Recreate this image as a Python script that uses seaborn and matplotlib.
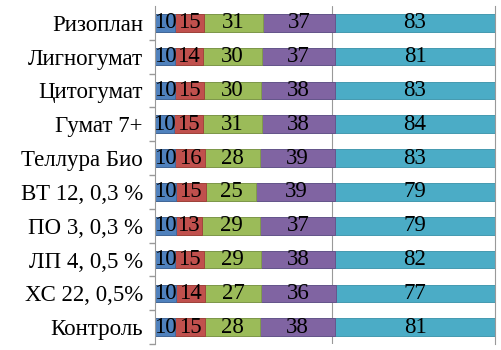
import matplotlib
matplotlib.use("Agg")
import matplotlib.pyplot as plt
import seaborn as sns
import numpy as np
import pandas as pd

categories = ["Ризоплан", "Лигногумат", "Цитогумат", "Гумат 7+", "Теллура Био",
              "ВТ 12, 0,3 %", "ПО 3, 0,3 %", "ЛП 4, 0,5 %", "ХС 22, 0,5%", "Контроль"]
s1 = [10, 10, 10, 10, 10, 10, 10, 10, 10, 10]
s2 = [15, 14, 15, 15, 16, 15, 13, 15, 14, 15]
s3 = [31, 30, 30, 31, 28, 25, 29, 29, 27, 28]
s4 = [37, 37, 38, 38, 39, 39, 37, 38, 36, 38]
s5 = [83, 81, 83, 84, 83, 79, 79, 82, 77, 81]
series = [s1, s2, s3, s4, s5]
colors = ["#4F81BD", "#C0504D", "#9BBB59", "#8064A2", "#4BACC6"]
edges = ["#3A6A9E", "#9E3B38", "#7E9C44", "#664E86", "#3590A8"]

sns.set_theme(style="white")
plt.rcParams["font.family"] = ["Liberation Serif", "DejaVu Serif"]

vals = np.array(series, dtype=float)
tot = vals.sum(axis=0)
frac = vals / tot
cum = np.cumsum(frac, axis=0)

fig = plt.figure(figsize=(5.01, 3.5), dpi=100)
ax = fig.add_axes([0.31, 0.017, 0.678, 0.966])

# draw cumulative bars from the largest to smallest
for i in range(len(series) - 1, -1, -1):
    df = pd.DataFrame({"cat": categories, "v": cum[i]})
    sns.barplot(data=df, x="v", y="cat", orient="h", color=colors[i],
                width=0.52, saturation=1, ax=ax, edgecolor=edges[i], linewidth=0.6)

# labels
for i in range(len(series)):
    left = cum[i] - frac[i]
    for j, c in enumerate(categories):
        xc = left[j] + frac[i][j] / 2
        ax.text(xc, j, f"{series[i][j]}", ha="center", va="center",
                fontsize=16.5, color="#000000")

ax.set_xlim(0, 1)
ax.set_ylim(len(categories) - 0.5, -0.5)
ax.axvline(0.52, color="#999999", lw=0.8, zorder=0)
ax.set_xlabel("")
ax.set_ylabel("")
ax.set_xticks([])
ax.tick_params(axis="y", length=0, labelsize=16.5, colors="#000000", pad=9)
ax.set_yticks(np.arange(len(categories)) + 0.5, minor=True)
ax.tick_params(axis="y", which="minor", length=4, color="#999999", left=True)
for sp in ["top", "bottom"]:
    ax.spines[sp].set_visible(False)
ax.spines["left"].set_color("#999999")
ax.spines["right"].set_color("#999999")
ax.spines["left"].set_linewidth(0.8)
ax.spines["right"].set_linewidth(0.8)

fig.savefig("out.png", dpi=100)
